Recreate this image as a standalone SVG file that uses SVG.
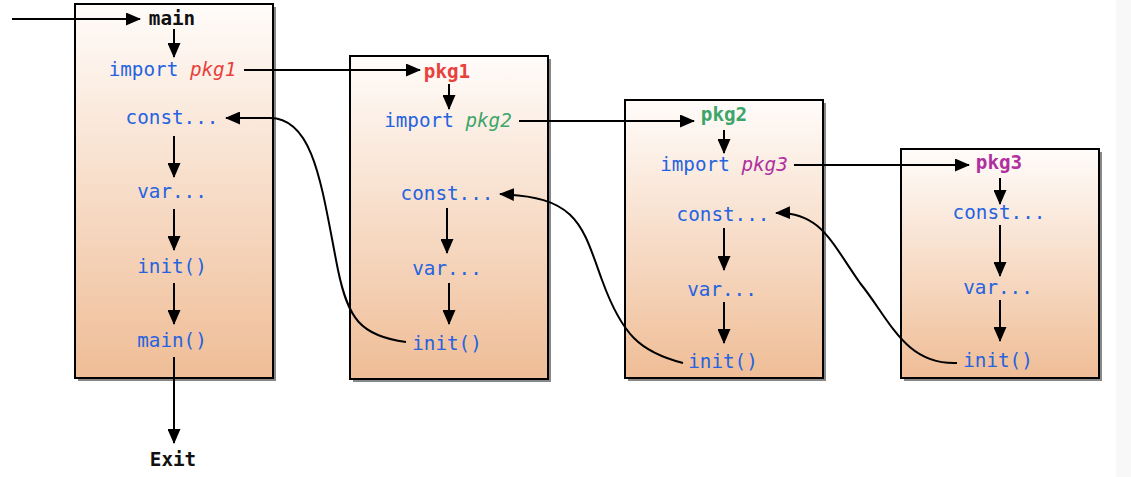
<svg xmlns="http://www.w3.org/2000/svg" width="1131" height="477" viewBox="0 0 1131 477">
<style>
.box{fill:url(#g);stroke:#000;stroke-width:2}
.sh{fill:#555;opacity:0.7}
.t{font-family:"DejaVu Sans Mono","Liberation Mono",monospace;font-size:19.3px;text-anchor:middle;fill:#2563e0}
.b{font-weight:bold;fill:#111}
.red{fill:#e8413c}
.grn{fill:#3da56a}
.pur{fill:#b0309f}
.it{font-style:italic}
.c{fill:none;stroke:#000;stroke-width:2;marker-end:url(#ah)}
</style>
<defs>
<linearGradient id="g" x1="0" y1="0" x2="0" y2="1">
<stop offset="0" stop-color="#fffcfa"/>
<stop offset="1" stop-color="#efbd96"/>
</linearGradient>
<marker id="ah" markerUnits="userSpaceOnUse" markerWidth="15" markerHeight="13" refX="14" refY="6.5" orient="auto">
<path d="M0,0 L15,6.5 L0,13 z" fill="#000"/>
</marker>
</defs>
<rect x="1116" y="0" width="15" height="477" fill="#f8f8f8"/>
<g id="main">
<rect class="sh" x="78" y="7" width="198" height="374"/>
<rect class="box" x="75" y="4" width="198" height="374"/>
<text class="t b" x="172" y="25">main</text>
<text class="t" x="172.5" y="76">import <tspan class="red it">pkg1</tspan></text>
<text class="t" x="172" y="124">const...</text>
<text class="t" x="172" y="198">var...</text>
<text class="t" x="172" y="273">init()</text>
<text class="t" x="172" y="347">main()</text>
</g>
<g id="exit"><text class="t b" x="173" y="466">Exit</text></g>
<g id="pkg1">
<rect class="sh" x="353" y="59" width="198" height="323"/>
<rect class="box" x="350" y="56" width="198" height="323"/>
<text class="t b red" x="447" y="78">pkg1</text>
<text class="t" x="448" y="127">import <tspan class="grn it">pkg2</tspan></text>
<text class="t" x="447" y="200">const...</text>
<text class="t" x="447" y="275">var...</text>
<text class="t" x="447" y="350">init()</text>
</g>
<g id="pkg2">
<rect class="sh" x="628" y="103" width="198" height="278"/>
<rect class="box" x="625" y="100" width="198" height="278"/>
<text class="t b grn" x="724" y="121">pkg2</text>
<text class="t" x="724" y="171">import <tspan class="pur it">pkg3</tspan></text>
<text class="t" x="723" y="221">const...</text>
<text class="t" x="722" y="296">var...</text>
<text class="t" x="723" y="368">init()</text>
</g>
<g id="pkg3">
<rect class="sh" x="904" y="152" width="198" height="229"/>
<rect class="box" x="901" y="149" width="198" height="229"/>
<text class="t b pur" x="999" y="169">pkg3</text>
<text class="t" x="999" y="219">const...</text>
<text class="t" x="998" y="294">var...</text>
<text class="t" x="998" y="367">init()</text>
</g>
<g id="connectors">
<path class="c" d="M12,19 H140"/>
<path class="c" d="M174,29 V57"/>
<path class="c" d="M174,136 V177"/>
<path class="c" d="M174,209 V250"/>
<path class="c" d="M174,283 V324"/>
<path class="c" d="M174,357 V443"/>
<path class="c" d="M244,70 H420"/>
<path class="c" d="M449,84 V109"/>
<path class="c" d="M447,208 V253"/>
<path class="c" d="M449,283 V324"/>
<path class="c" d="M519,121 H694"/>
<path class="c" d="M724,130 V153"/>
<path class="c" d="M724,228 V270"/>
<path class="c" d="M724,302 V343"/>
<path class="c" d="M794,165 H969"/>
<path class="c" d="M1000,178 V204"/>
<path class="c" d="M1000,225 V276"/>
<path class="c" d="M1000,300 V341"/>
<path class="c" d="M406,342 C360,336 348,318 338,270 C322,190 315,118 270,118 L226,118"/>
<path class="c" d="M683,363 C640,352 622,335 602,280 C582,225 578,197 500,194"/>
<path class="c" d="M957,363 C905,365 890,320 860,283 C830,240 820,212 776,213"/>
</g>
</svg>
